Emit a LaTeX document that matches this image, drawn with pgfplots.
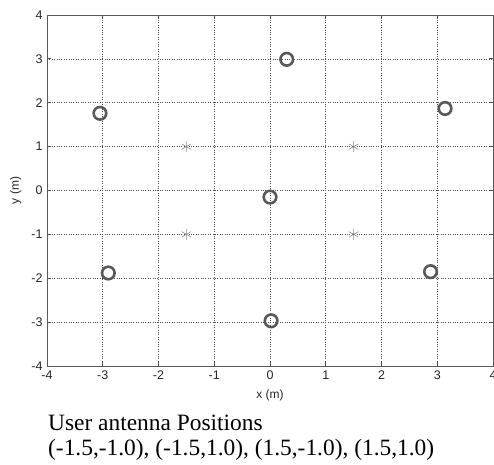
\documentclass[border=0pt]{standalone}
\usepackage{fontspec}
\setmainfont{Liberation Serif}
\setsansfont{Liberation Sans}
\usepackage{pgfplots}
\pgfplotsset{compat=1.18}
\begin{document}
\begin{tikzpicture}
\begin{axis}[
  at={(0pt,0pt)}, anchor=south west,
  scale only axis, width=446pt, height=351pt,
  xmin=-4, xmax=4, ymin=-4, ymax=4,
  xtick={-4,...,4}, ytick={-4,...,4},
  tick align=inside, major tick length=4pt,
  tick style={color=black!70, line width=0.8pt},
  axis line style={color=black!65, line width=0.8pt},
  grid=major,
  major grid style={dotted, color=black!70, line width=0.6pt},
  /pgf/number format/assume math mode=true,
  ticklabel style={font=\sffamily\fontsize{12.5}{12.5}\selectfont, text=black!85},
  xticklabel style={yshift=-1pt},
  yticklabel style={xshift=-1pt},
  xlabel={x (m)}, ylabel={y (m)},
  label style={font=\sffamily\fontsize{12}{12}\selectfont, text=black!85},
  xlabel style={at={(axis description cs:0.5,0)}, anchor=center, yshift=-29pt},
  ylabel style={yshift=3pt},
  clip=false,
]
\addplot[only marks, mark=o, mark size=6.3pt, mark options={line width=2.6pt, draw=black!65}]
coordinates {(0.3,2.99) (3.14,1.87) (-3.05,1.76) (0,-0.15) (-2.9,-1.88) (2.88,-1.85) (0.02,-2.97)};
\addplot[only marks, mark=asterisk, mark size=5.5pt, mark options={line width=0.6pt, draw=black!45}]
coordinates {(-1.5,1) (-1.5,-1) (1.5,1) (1.5,-1)};
\end{axis}
\node[anchor=base west, inner sep=0pt, font=\fontsize{23.4}{26}\selectfont] at (1pt,-64pt) {User antenna Positions};
\node[anchor=base west, inner sep=0pt, font=\fontsize{23.4}{26}\selectfont] at (1pt,-89pt) {(-1.5,-1.0), (-1.5,1.0), (1.5,-1.0), (1.5,1.0)};
\pgfresetboundingbox
\path[use as bounding box] (-47pt,-98pt) rectangle (447pt,366pt);
\end{tikzpicture}
\end{document}
